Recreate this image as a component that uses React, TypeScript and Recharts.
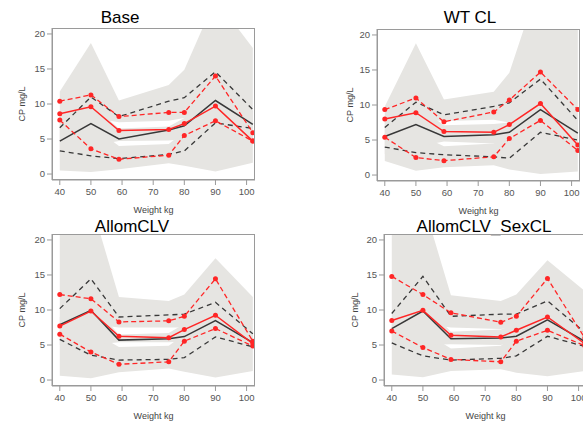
import { ComposedChart, Area, Line, XAxis, YAxis } from "recharts";

// panel titles
const titles = ["Base", "WT CL", "AllomCLV", "AllomCLV_SexCL"];

// weight bins (x) and axis ticks
const weights = [40, 50, 59, 75, 80, 90, 102];
const xTicks = [40, 50, 60, 70, 80, 90, 100];
const yTicks = [0, 5, 10, 15, 20];

// observed percentiles (red), one row per panel
const obsMedian = [
  [8.6, 9.6, 6.2, 6.35, 7.2, 9.7, 4.7],
  [8.0, 8.9, 6.2, 6.1, 7.2, 10.2, 4.3],
  [7.7, 9.85, 6.25, 6.05, 7.2, 9.25, 5.2],
  [8.5, 9.95, 6.4, 6.15, 7.1, 9.0, 5.2],
];
const obsHigh = [
  [10.4, 11.3, 8.2, 8.8, 8.8, 14.0, 5.9],
  [9.35, 11.0, 7.6, 9.0, 10.7, 14.7, 9.35],
  [12.2, 11.6, 8.3, 8.45, 9.1, 14.45, 5.55],
  [14.8, 12.2, 9.6, 8.25, 9.1, 14.5, 6.0],
];
const obsLow = [
  [7.7, 3.6, 2.1, 2.7, 5.5, 7.6, 4.7],
  [5.4, 2.5, 2.05, 2.6, 5.2, 7.8, 3.5],
  [6.55, 4.0, 2.25, 2.6, 5.55, 7.35, 4.85],
  [7.0, 4.65, 2.95, 2.6, 5.55, 7.1, 4.9],
];

// simulated percentiles (black)
const simMedian = [
  [4.7, 7.2, 5.0, 6.3, 6.9, 10.5, 7.1],
  [5.5, 7.2, 5.5, 5.75, 6.1, 9.35, 6.0],
  [7.9, 9.95, 5.7, 5.9, 6.2, 8.5, 5.35],
  [7.35, 9.85, 5.9, 6.0, 6.25, 8.6, 5.5],
];
const simHigh = [
  [6.6, 11.0, 8.2, 10.4, 10.9, 14.6, 9.2],
  [6.8, 10.4, 8.6, 9.8, 10.3, 13.7, 7.8],
  [10.2, 14.45, 9.0, 9.3, 9.4, 11.1, 6.6],
  [9.5, 14.8, 9.1, 9.4, 9.4, 11.3, 6.8],
];
const simLow = [
  [3.3, 2.6, 2.2, 2.8, 3.3, 7.3, 6.5],
  [4.0, 3.2, 2.9, 2.6, 2.4, 6.1, 5.0],
  [5.8, 3.55, 2.85, 2.95, 3.2, 6.15, 4.75],
  [5.3, 3.45, 2.85, 3.1, 3.45, 6.25, 4.8],
];

// confidence bands of the simulated percentiles (grey)
const lowBandLo = [
  [0.5, 0.3, 0.7, 1.55, 1.2, 0.35, 1.6],
  [2.0, 0.6, 1.1, 1.4, 0.8, 0.15, 0.5],
  [0.6, 0.25, 1.1, 1.65, 1.2, 0.35, 1.3],
  [0.8, 0.4, 1.3, 1.55, 1.05, 0.55, 1.3],
];
const lowBandHi = [
  [6, 7, 4.0, 4.3, 6.0, 9, 8],
  [6, 6, 4.1, 4.5, 6, 8, 7],
  [7, 7, 4.7, 4.9, 6.5, 8, 6],
  [7, 7, 4.5, 4.9, 6.5, 8, 6],
];
const midBandLo = [
  [3, 4, 4.7, 4.8, 5.0, 7, 5],
  [3, 4, 4.8, 4.5, 5, 7, 4],
  [5, 5, 5.4, 5.4, 5.5, 7, 4.5],
  [5, 5, 5.1, 5.0, 5.5, 7, 4.5],
];
const midBandHi = [
  [8, 10, 6.5, 6.8, 8.0, 13, 9],
  [8, 10, 7.1, 7.3, 7.5, 12, 8],
  [9, 11, 6.5, 6.7, 8, 10, 6.5],
  [9, 11, 6.9, 7.2, 8, 10, 6.5],
];
const highBandLo = [
  [6, 8, 7.4, 7.6, 8.0, 9, 7],
  [6, 8, 7.7, 7.9, 7.5, 9, 6],
  [7, 8, 7.5, 7.5, 7.5, 9, 5.5],
  [7, 8, 7.5, 7.3, 7.5, 9, 5.5],
];
const highBandHi = [
  [11.8, 18.7, 10.5, 12.7, 14.9, 25, 18],
  [9.8, 18.8, 10.8, 11.9, 14.6, 28, 24],
  [26, 25.4, 11.85, 11.3, 12.2, 17.4, 11.85],
  [26, 25.5, 12.1, 11.3, 12.2, 17.1, 12.7],
];

const RED = "#ff2626";
const BLACK = "#383838";
const GREY = "#e6e5e2";
const AXIS = "#9a9a9a";

const PLOT_W = 203;
const PLOT_H = 152;
const Y_AXIS_W = 40;
const X_AXIS_H = 36;
const TOP_M = 4;

const layout = [
  { left: 52, top: 28, yLabel: 10, tx: 120, ty: 18 },
  { left: 377, top: 28.5, yLabel: 13, tx: 470, ty: 18 },
  { left: 52, top: 234, yLabel: 10, tx: 132, ty: 227 },
  { left: 384, top: 234, yLabel: 11, tx: 484, ty: 227 },
];

const buildRows = (p: number) =>
  weights.map((w, i) => ({
    w,
    obsMed: obsMedian[p][i],
    obsHi: obsHigh[p][i],
    obsLo: obsLow[p][i],
    simMed: simMedian[p][i],
    simHi: simHigh[p][i],
    simLo: simLow[p][i],
    lowBand: [lowBandLo[p][i], lowBandHi[p][i]],
    midBand: [midBandLo[p][i], midBandHi[p][i]],
    highBand: [highBandLo[p][i], highBandHi[p][i]],
  }));

const redDot = { r: 2.5, fill: RED, stroke: "none" };

const Panel = ({ p }: { p: number }) => {
  const pos = layout[p];
  const data = buildRows(p);
  return (
    <>
      <div
        style={{
          position: "absolute",
          left: pos.tx,
          top: pos.ty,
          transform: "translate(-50%, -50%)",
          fontSize: 17,
          whiteSpace: "nowrap",
          color: "#000",
        }}
      >
        {titles[p]}
      </div>
      <div style={{ position: "absolute", left: pos.left - Y_AXIS_W, top: pos.top - TOP_M }}>
        <ComposedChart
          width={Y_AXIS_W + PLOT_W + 4}
          height={TOP_M + PLOT_H + X_AXIS_H}
          data={data}
          margin={{ top: TOP_M, right: 4, left: 0, bottom: 0 }}
        >
          <XAxis
            dataKey="w"
            type="number"
            domain={[37.5, 102.7]}
            ticks={xTicks}
            allowDataOverflow
            height={X_AXIS_H}
            tickSize={5}
            tickMargin={3}
            stroke={AXIS}
            tick={{ fontSize: 9.5, fill: "#555" }}
            label={{ value: "Weight kg", position: "insideBottom", offset: 3, fontSize: 9, fill: "#444" }}
          />
          <YAxis
            type="number"
            domain={[-0.85, 20.85]}
            ticks={yTicks}
            allowDataOverflow
            width={Y_AXIS_W}
            tickSize={5}
            stroke={AXIS}
            tick={{ fontSize: 9.5, fill: "#555" }}
            label={{
              value: "CP mg/L",
              angle: -90,
              position: "insideLeft",
              offset: pos.yLabel,
              fontSize: 9,
              fill: "#444",
              style: { textAnchor: "middle" },
            }}
          />
          <Area dataKey="lowBand" type="linear" stroke="none" fill={GREY} fillOpacity={1} dot={false} activeDot={false} isAnimationActive={false} />
          <Area dataKey="midBand" type="linear" stroke="none" fill={GREY} fillOpacity={1} dot={false} activeDot={false} isAnimationActive={false} />
          <Area dataKey="highBand" type="linear" stroke="none" fill={GREY} fillOpacity={1} dot={false} activeDot={false} isAnimationActive={false} />
          <Line dataKey="simHi" type="linear" stroke={BLACK} strokeWidth={1.3} strokeDasharray="5 4" dot={false} isAnimationActive={false} />
          <Line dataKey="simLo" type="linear" stroke={BLACK} strokeWidth={1.3} strokeDasharray="5 4" dot={false} isAnimationActive={false} />
          <Line dataKey="simMed" type="linear" stroke={BLACK} strokeWidth={1.5} dot={false} isAnimationActive={false} />
          <Line dataKey="obsHi" type="linear" stroke={RED} strokeWidth={1.3} strokeDasharray="5 3" dot={redDot} isAnimationActive={false} />
          <Line dataKey="obsLo" type="linear" stroke={RED} strokeWidth={1.3} strokeDasharray="5 3" dot={redDot} isAnimationActive={false} />
          <Line dataKey="obsMed" type="linear" stroke={RED} strokeWidth={1.5} dot={redDot} isAnimationActive={false} />
        </ComposedChart>
      </div>
      <div
        style={{
          position: "absolute",
          left: pos.left,
          top: pos.top,
          width: PLOT_W,
          height: PLOT_H,
          border: `1px solid ${AXIS}`,
          boxSizing: "border-box",
          pointerEvents: "none",
        }}
      />
    </>
  );
};

export default function App() {
  return (
    <div
      style={{
        position: "absolute",
        left: 0,
        top: 0,
        width: 583,
        height: 423,
        overflow: "hidden",
        background: "#fff",
        fontFamily: "'Liberation Sans', Arial, sans-serif",
      }}
    >
      {titles.map((_, p) => (
        <Panel key={p} p={p} />
      ))}
    </div>
  );
}
